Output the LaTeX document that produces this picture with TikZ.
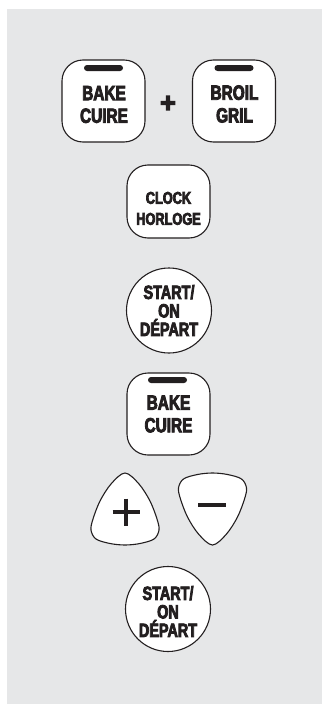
\documentclass[tikz,border=0pt]{standalone}
\usepackage{fontspec}
\newfontfamily\keyfont{Liberation Sans Bold}[FakeStretch=0.75,FakeBold=4]
\newfontfamily\plusfont{Liberation Sans Bold}[FakeBold=5]
\definecolor{panel}{HTML}{E6E7E8}
\definecolor{ink}{HTML}{231F20}
\tikzset{
  keybox/.style={draw=ink, line width=1.1pt, fill=white, rounded corners=21pt,
    minimum width=83pt, inner sep=0pt},
  keyround/.style={draw=ink, line width=1.1pt, fill=white, circle,
    minimum size=85pt, inner sep=0pt},
  keybar/.style={fill=ink, rounded corners=3pt, minimum width=39pt,
    minimum height=6pt, inner sep=0pt},
  keylabel/.style={text=ink, align=center, inner sep=0pt},
  bigtxt/.style={keylabel, font=\keyfont\fontsize{20.5}{22.7}\selectfont},
  clocktxt/.style={keylabel, font=\keyfont\fontsize{17}{21}\selectfont},
  starttxt/.style={keylabel, font=\keyfont\fontsize{19.2}{18.5}\selectfont},
  tri/.style={draw=ink, line width=1.1pt, fill=white},
  sign/.style={draw=ink, line cap=butt},
}
\newcommand\trishape{plot[smooth cycle, tension=0.55] coordinates {
  (0,-36) (-14,-25) (-25,-8) (-32,10) (-34,21) (-29,30) (-15,34.5) (0,36)
  (15,34.5) (29,30) (34,21) (32,10) (25,-8) (14,-25)}}
\begin{document}
\begin{tikzpicture}[x=1pt, y=-1pt]
  \useasboundingbox (0,0) rectangle (322,704);
  \fill[panel] (7,9) rectangle (322,704);

  % row 1: BAKE + BROIL
  \node[keybox, minimum height=82pt] (bake1) at (103.5,101) {};
  \node[keybar] (bake1bar) at (103.5,68) {};
  \node[bigtxt] (bake1txt) at (104,104.5) {BAKE\\CUIRE};

  \node[text=ink, font=\plusfont\fontsize{27}{27}\selectfont, inner sep=0pt,
    anchor=base] (plustop) at (168,112) {+};

  \node[keybox, minimum height=82pt] (broil) at (234,101) {};
  \node[keybar] (broilbar) at (234,68) {};
  \node[bigtxt] (broiltxt) at (234.5,104) {BROIL\\GRIL};

  % CLOCK
  \node[keybox, minimum height=73pt] (clock) at (168.5,201.5) {};
  \node[clocktxt] (clocktxt) at (168.5,208.4) {CLOCK\\HORLOGE};

  % START 1
  \node[keyround] (start1) at (169,310.5) {};
  \node[starttxt] (start1txt) at (169,310.5) {START/\\ON\\DÉPART};

  % BAKE 2
  \node[keybox, minimum height=82pt] (bake2) at (168.5,414) {};
  \node[keybar] (bake2bar) at (167.5,380) {};
  \node[bigtxt] (bake2txt) at (168.5,414) {BAKE\\CUIRE};

  % plus / minus triangles
  \begin{scope}[shift={(125,509)}]
    \draw[tri] \trishape;
    \coordinate (plusc) at (1,3);
  \end{scope}
  \draw[sign, line width=4pt] ([xshift=-13.5pt]plusc) -- ([xshift=13.5pt]plusc);
  \draw[sign, line width=4pt] ([yshift=13.5pt]plusc) -- ([yshift=-13.5pt]plusc);

  \begin{scope}[shift={(212.5,509)}, yscale=-1]
    \draw[tri] \trishape;
  \end{scope}
  \coordinate (minusc) at (212,505);
  \draw[sign, line width=4.5pt] ([xshift=-14pt]minusc) -- ([xshift=14pt]minusc);

  % START 2
  \node[keyround] (start2) at (168,609) {};
  \node[starttxt] (start2txt) at (168,611.5) {START/\\ON\\DÉPART};
\end{tikzpicture}
\end{document}
